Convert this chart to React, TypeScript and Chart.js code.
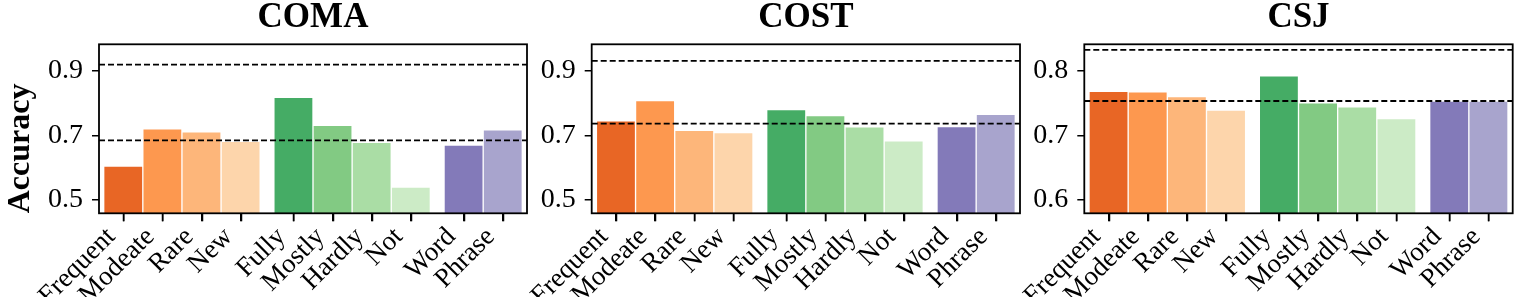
import React, { useEffect, useRef } from 'react';
import { Chart, registerables } from 'chart.js';

Chart.register(...registerables);
Chart.defaults.font.family = "'Liberation Serif', 'Times New Roman', 'DejaVu Serif', serif";
Chart.defaults.color = '#000';

// ---------------- data ----------------
const categories = ['Frequent', 'Modeate', 'Rare', 'New', 'Fully', 'Mostly', 'Hardly', 'Not', 'Word', 'Phrase'];
const groupSizes = [4, 4, 2];

const comaValues = [0.605, 0.720, 0.711, 0.681, 0.817, 0.731, 0.678, 0.540, 0.670, 0.717];
const costValues = [0.745, 0.807, 0.715, 0.708, 0.779, 0.761, 0.726, 0.683, 0.727, 0.765];
const csjValues = [0.768, 0.767, 0.760, 0.739, 0.792, 0.750, 0.744, 0.726, 0.753, 0.753];

const comaRefLines = [0.918, 0.684];
const costRefLines = [0.930, 0.736];
const csjRefLines = [0.832, 0.753];

const wideTicks = [0.5, 0.7, 0.9];
const narrowTicks = [0.6, 0.7, 0.8];

// ---------------- styles / layout ----------------
const barColors = [
  'rgba(230,85,13,0.9)', 'rgba(253,141,60,0.9)', 'rgba(253,174,107,0.9)', 'rgba(253,208,162,0.9)',
  'rgba(49,163,84,0.9)', 'rgba(116,196,118,0.9)', 'rgba(161,217,155,0.9)', 'rgba(199,233,192,0.9)',
  'rgba(117,107,177,0.9)', 'rgba(158,154,200,0.9)',
];
const GROUP_GAP = 0.35;
const slots: number[] = (() => {
  const out: number[] = [];
  let x = 0;
  groupSizes.forEach((n) => {
    for (let i = 0; i < n; i++) { out.push(x); x += 1; }
    x += GROUP_GAP;
  });
  return out;
})();
const X_PAD = 0.62;
const xMin = slots[0] - X_PAD;
const xMax = slots[slots.length - 1] + X_PAD;
const H = 297;
const X_AXIS_H = 83.7;
const TICK_LEN = 8;

type PanelCfg = {
  title: string; values: number[]; refLines: number[]; yTicks: number[];
  yMin: number; yMax: number; left: number; width: number; yAxisW: number; rightPad: number; showYTitle: boolean;
};

const panels: PanelCfg[] = [
  { title: 'COMA', values: comaValues, refLines: comaRefLines, yTicks: wideTicks, yMin: 0.459, yMax: 0.981, left: 0, width: 535, yAxisW: 99, rightPad: 8, showYTitle: true },
  { title: 'COST', values: costValues, refLines: costRefLines, yTicks: wideTicks, yMin: 0.459, yMax: 0.981, left: 440, width: 588, yAxisW: 151.7, rightPad: 8, showYTitle: false },
  { title: 'CSJ', values: csjValues, refLines: csjRefLines, yTicks: narrowTicks, yMin: 0.5795, yMax: 0.8406, left: 930, width: 598, yAxisW: 154.3, rightPad: 15.3, showYTitle: false },
];

const framePlugin = {
  id: 'frame',
  afterDraw(chart: any) {
    const { ctx, chartArea: a } = chart;
    const xs = chart.scales.x;
    ctx.save();
    ctx.strokeStyle = '#000';
    ctx.lineWidth = 1.8;
    ctx.strokeRect(a.left, a.top, a.right - a.left, a.bottom - a.top);
    // outward tick marks on the category axis
    ctx.lineWidth = 1.5;
    ctx.beginPath();
    xs.ticks.forEach((t: any) => {
      const px = Math.round(xs.getPixelForValue(t.value)) + 0.5;
      ctx.moveTo(px, a.bottom);
      ctx.lineTo(px, a.bottom + TICK_LEN);
    });
    ctx.stroke();
    ctx.restore();
  },
};

function buildConfig(p: PanelCfg): any {
  return {
    type: 'bar',
    data: {
      datasets: [
        ...p.refLines.map((v) => ({
          type: 'line',
          data: [{ x: xMin, y: v }, { x: xMax, y: v }],
          borderColor: '#000',
          borderWidth: 1.8,
          borderDash: [6, 3],
          pointRadius: 0,
          fill: false,
          order: 0,
        })),
        {
          type: 'bar',
          data: p.values.map((v, i) => ({ x: slots[i], y: v })),
          backgroundColor: barColors,
          borderColor: 'rgba(255,255,255,0.35)',
          borderWidth: 1,
          barPercentage: 1,
          categoryPercentage: 1,
          order: 1,
        },
      ],
    },
    options: {
      responsive: false,
      animation: false,
      devicePixelRatio: 1,
      layout: { padding: { left: 0, right: p.rightPad, top: 0, bottom: 0 } },
      plugins: {
        legend: { display: false },
        tooltip: { enabled: false },
        title: {
          display: true,
          text: p.title,
          fullSize: false,
          color: '#000',
          font: { size: 35, weight: 'bold', lineHeight: 1 },
          padding: { top: 0, bottom: 9.3 },
        },
      },
      scales: {
        x: {
          type: 'linear',
          min: xMin,
          max: xMax,
          offset: false,
          afterBuildTicks: (s: any) => { s.ticks = slots.map((v) => ({ value: v })); },
          afterFit: (s: any) => { s.height = X_AXIS_H; },
          ticks: {
            autoSkip: false,
            minRotation: 45,
            maxRotation: 45,
            labelOffset: -12,
            padding: 0,
            color: '#000',
            font: { size: 27 },
            callback: (_v: any, i: number) => categories[i],
          },
          grid: { offset: false, drawOnChartArea: false, drawTicks: true, tickLength: TICK_LEN, color: '#000', lineWidth: 1.5 },
          border: { display: false },
        },
        y: {
          type: 'linear',
          min: p.yMin,
          max: p.yMax,
          afterBuildTicks: (s: any) => { s.ticks = p.yTicks.map((v) => ({ value: v })); },
          afterFit: (s: any) => { s.width = p.yAxisW; },
          ticks: {
            color: '#000',
            font: { size: 28 },
            padding: 9,
            callback: (v: any) => Number(v).toFixed(1),
          },
          grid: { drawOnChartArea: false, drawTicks: true, tickLength: 7, color: '#000', lineWidth: 1.5 },
          border: { display: false },
          title: {
            display: p.showYTitle,
            text: 'Accuracy',
            align: 'start',
            color: '#000',
            font: { size: 32, weight: 'bold', lineHeight: 1 },
            padding: { top: 5, bottom: 0 },
          },
        },
      },
    },
    plugins: [framePlugin],
  };
}

function Panel({ cfg }: { cfg: PanelCfg }) {
  const ref = useRef<HTMLCanvasElement>(null);
  useEffect(() => {
    const chart = new Chart(ref.current as HTMLCanvasElement, buildConfig(cfg));
    return () => chart.destroy();
  }, [cfg]);
  return (
    <canvas
      ref={ref}
      width={cfg.width}
      height={H}
      style={{ position: 'absolute', left: cfg.left, top: 0, width: cfg.width, height: H }}
    />
  );
}

export default function App() {
  return (
    <div style={{ position: 'absolute', left: 0, top: 0, width: 1528, height: H, background: '#fff', overflow: 'hidden' }}>
      {panels.map((p) => (
        <Panel key={p.title} cfg={p} />
      ))}
    </div>
  );
}
